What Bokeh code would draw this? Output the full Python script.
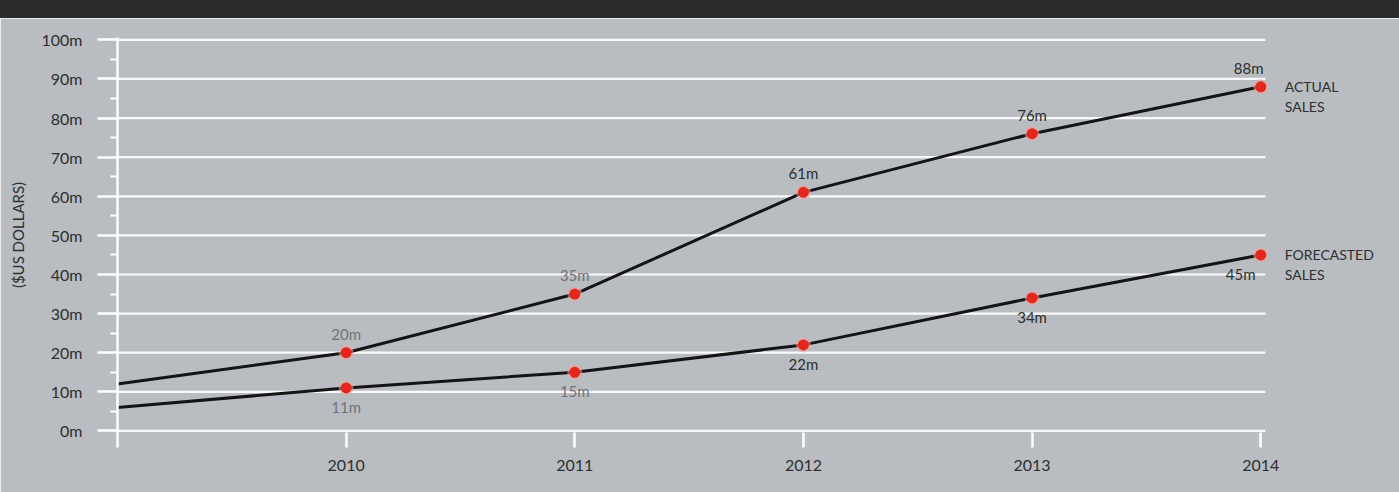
from bokeh.plotting import figure
from bokeh.models import Range1d, FixedTicker, ColumnDataSource, LabelSet, Label, Div
from bokeh.layouts import column
from bokeh.core.properties import value
from bokeh.embed import file_html
from bokeh.resources import INLINE

# ---- data ----
years = [2009, 2010, 2011, 2012, 2013, 2014]
actual_sales = [12, 20, 35, 61, 76, 88]
forecast_sales = [6, 11, 15, 22, 34, 45]
y_ticks = [0, 10, 20, 30, 40, 50, 60, 70, 80, 90, 100]
y_tick_labels = ["0m", "10m", "20m", "30m", "40m", "50m", "60m", "70m", "80m", "90m", "100m"]
x_tick_labels = ["", "2010", "2011", "2012", "2013", "2014"]
series_names = ["ACTUAL\nSALES", "FORECASTED\nSALES"]
y_axis_title = "($US DOLLARS)"

# ---- style ----
BG = "#b9bdc2"
DARK = "#2b2b2b"
TEXT = "#2e2e2e"
FAINT = "#6f7378"
RED = "#e4261c"
FONT = "Lato"

p = figure(width=1399, height=474,
           x_range=Range1d(years[0], years[-1] + 0.55), y_range=Range1d(-0.4, 100.6),
           output_backend="svg", toolbar_location=None,
           min_border_left=117, min_border_right=13, min_border_top=19, min_border_bottom=60,
           background_fill_color=BG, border_fill_color=BG,
           outline_line_color=BG, outline_line_width=2)

# grid (drawn as segments so it stops at the last year)
p.xgrid.grid_line_color = None
p.ygrid.grid_line_color = None
p.segment(x0=[years[0]] * len(y_ticks), y0=y_ticks,
          x1=[years[-1] + 0.02] * len(y_ticks), y1=y_ticks,
          line_color="white", line_width=2.2, line_alpha=0.92)

# y axis
yax = p.yaxis[0]
yax.ticker = FixedTicker(ticks=y_ticks, minor_ticks=[t + 5 for t in y_ticks[:-1]])
yax.major_label_overrides = dict(zip(y_ticks, y_tick_labels))
yax.axis_line_color = "white"
yax.axis_line_width = 2.5
yax.major_tick_line_color = "white"
yax.major_tick_line_width = 2.5
yax.major_tick_out = 20
yax.major_tick_in = 0
yax.minor_tick_line_color = "white"
yax.minor_tick_line_width = 2
yax.minor_tick_out = 7
yax.minor_tick_in = 0
yax.major_label_standoff = 15
yax.major_label_text_font = FONT
yax.major_label_text_font_size = "16px"
yax.major_label_text_color = TEXT
yax.axis_label = y_axis_title
yax.axis_label_text_font = FONT
yax.axis_label_text_font_size = "15px"
yax.axis_label_text_font_style = "normal"
yax.axis_label_text_color = TEXT
yax.axis_label_standoff = 12

# x axis
xax = p.xaxis[0]
xax.ticker = FixedTicker(ticks=years)
xax.major_label_overrides = dict(zip(years, x_tick_labels))
xax.axis_line_color = None
xax.major_tick_line_color = "white"
xax.major_tick_line_width = 2.5
xax.major_tick_out = 15
xax.major_tick_in = 0
xax.minor_tick_line_color = None
xax.major_label_standoff = 12
xax.major_label_text_font = FONT
xax.major_label_text_font_size = "16px"
xax.major_label_text_color = TEXT

# lines
p.line(years, actual_sales, line_color="#141414", line_width=3)
p.line(years, forecast_sales, line_color="#141414", line_width=3)

# dots (no dot at the axis start)
for ys in (actual_sales, forecast_sales):
    p.scatter(years[1:], ys[1:], size=15, color="#eea49c", alpha=0.55, line_color=None)
    p.scatter(years[1:], ys[1:], size=11, color=RED, line_color=None)

# value labels
n = len(years) - 1
label_colors = [FAINT, FAINT] + [TEXT] * (n - 2)
x_offsets = [0] * (n - 1) + [-12]
x_offsets_f = [0] * (n - 1) + [-20]

src_a = ColumnDataSource(dict(x=years[1:], y=actual_sales[1:],
                              text=[f"{v}m" for v in actual_sales[1:]],
                              label_color=label_colors, xoff=x_offsets))
src_f = ColumnDataSource(dict(x=years[1:], y=forecast_sales[1:],
                              text=[f"{v}m" for v in forecast_sales[1:]],
                              label_color=label_colors, xoff=x_offsets_f))

p.add_layout(LabelSet(x="x", y="y", text="text", source=src_a, x_offset="xoff", y_offset=10,
                      text_align="center", text_baseline="bottom",
                      text_font=value(FONT), text_font_size=value("15px"), text_color="label_color"))
p.add_layout(LabelSet(x="x", y="y", text="text", source=src_f, x_offset="xoff", y_offset=-10,
                      text_align="center", text_baseline="top",
                      text_font=value(FONT), text_font_size=value("15px"), text_color="label_color"))

# series names
for name, ys in zip(series_names, (actual_sales, forecast_sales)):
    p.add_layout(Label(x=years[-1], y=ys[-1], text=name, x_offset=24, y_offset=9,
                       text_align="left", text_baseline="top", text_font=FONT,
                       text_font_size="14px", text_color=TEXT, text_line_height=1.2))

band = Div(text="", width=1399, height=18, margin=0,
           styles={"background-color": DARK})

layout = column(band, p, spacing=0)
open("out.html", "w").write(file_html(layout, INLINE))
